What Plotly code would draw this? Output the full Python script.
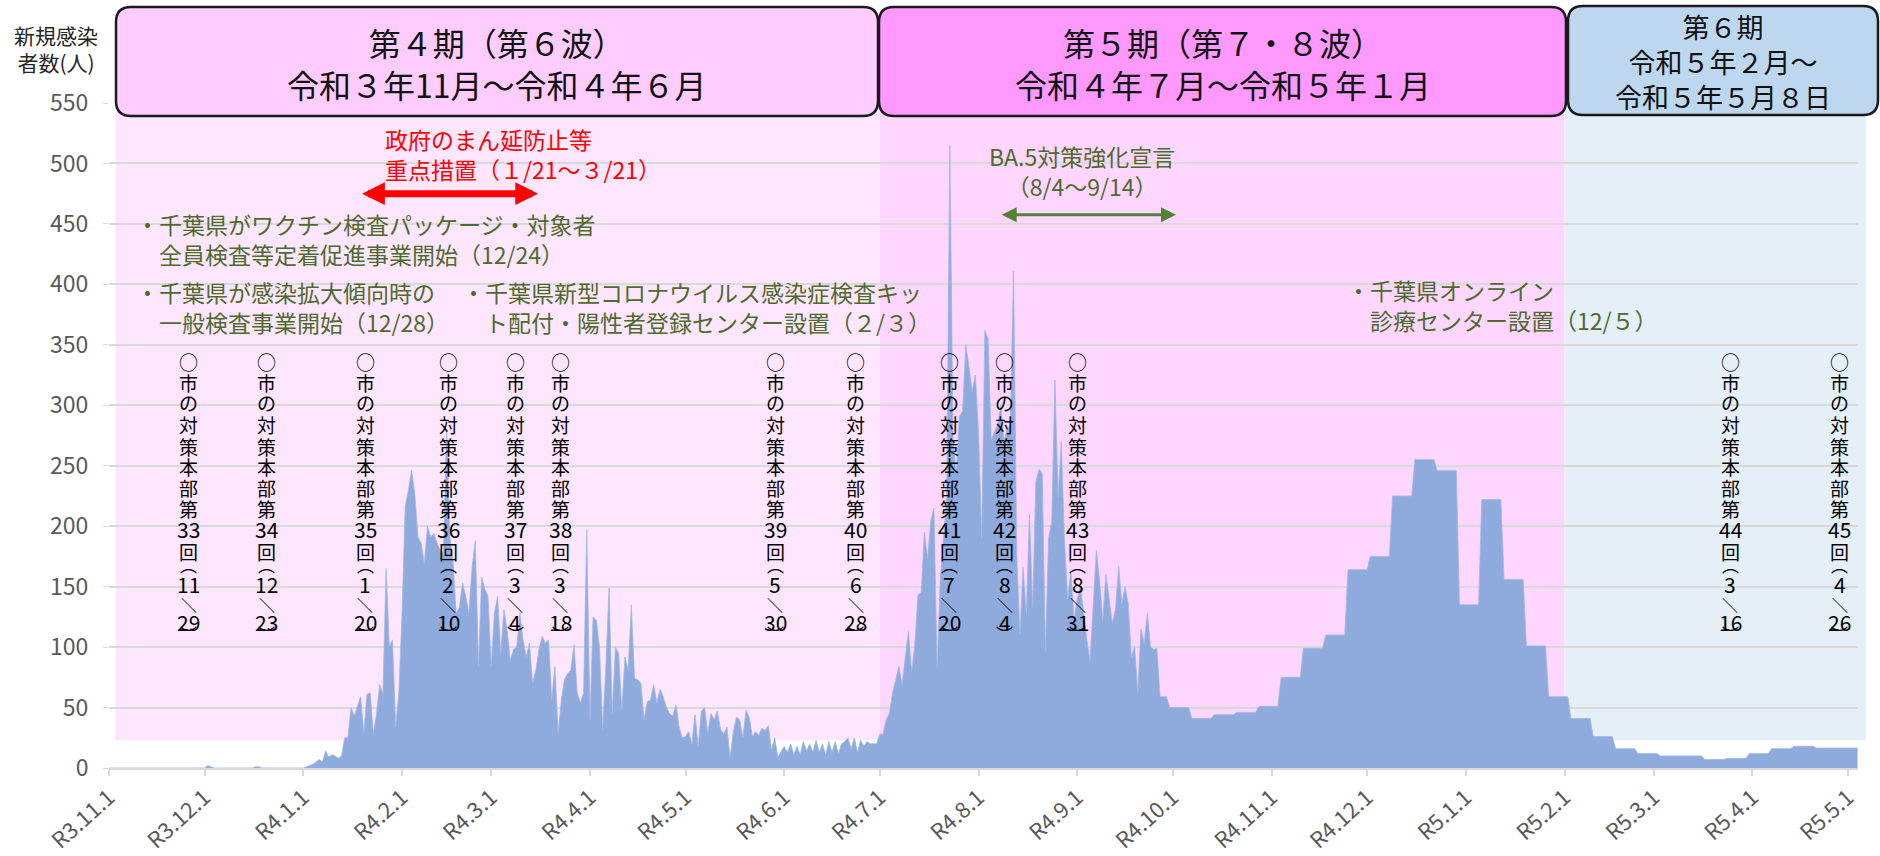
import pandas as pd
import plotly.graph_objects as go

# ---------------- data ----------------
daily_start = "2021-11-01"
nov_2021 = [0, 0, 0, 0, 0, 0, 0, 0, 0, 0, 0, 0, 0, 0, 0, 0, 0, 0, 0, 0, 0, 0, 0, 0, 0, 0, 0, 0, 0, 0]
dec_2021 = [0, 2, 1, 0, 0, 0, 0, 0, 0, 0, 0, 0, 0, 0, 0, 0, 1, 1, 0, 0, 0, 0, 0, 0, 0, 0, 0, 0, 0, 0, 0]
jan_2022 = [0, 1, 2, 3, 5, 7, 5, 14, 9, 11, 10, 8, 10, 25, 25, 50, 43, 52, 59, 29, 61, 62, 28, 45, 69,
            61, 165, 100, 106, 34, 62]
feb_2022 = [128, 216, 230, 246, 227, 191, 186, 169, 200, 191, 194, 186, 180, 177, 279, 191, 172, 128,
            133, 153, 142, 128, 166, 188, 84, 158, 148, 142]
mar_2022 = [84, 128, 142, 95, 131, 114, 89, 98, 100, 128, 106, 92, 103, 70, 81, 98, 109, 103, 106, 56,
            84, 29, 56, 73, 78, 81, 102, 62, 54, 62, 197]
apr_2022 = [40, 125, 122, 100, 32, 84, 149, 45, 100, 95, 48, 92, 81, 135, 74, 73, 70, 40, 55, 56,
            69, 54, 65, 59, 50, 45, 43, 52, 34, 25]
may_2022 = [26, 30, 20, 44, 18, 47, 50, 29, 45, 40, 47, 32, 28, 34, 9, 30, 42, 40, 25, 48, 42, 26,
            30, 27, 33, 31, 35, 15, 25, 9, 13]
jun_2022 = [18, 13, 20, 11, 18, 11, 22, 14, 20, 13, 23, 13, 20, 11, 22, 13, 22, 12, 20, 22, 25, 16,
            25, 13, 23, 18, 22, 20, 20, 20]
jul_2022 = [28, 28, 40, 45, 62, 72, 84, 69, 89, 113, 79, 102, 143, 145, 195, 173, 204, 215, 82, 156,
            190, 224, 515, 270, 244, 291, 295, 350, 332, 311, 325]
aug_2022 = [278, 190, 362, 355, 271, 278, 284, 300, 270, 280, 284, 411, 177, 110, 166, 126, 210, 133,
            237, 247, 244, 96, 190, 204, 321, 224, 270, 187, 140, 163, 123]
sep_2022 = [140, 150, 129, 106, 89, 133, 180, 155, 122, 160, 140, 120, 131, 167, 136, 150, 136, 91,
            101, 62, 115, 103, 128, 100, 98, 99, 59, 59, 59]  # 9/1 - 9/29

weekly_start = "2022-09-30"   # from here the figures are given per week
weekly_avg = [50, 41, 44, 46, 51, 75, 99, 110, 164, 175, 225, 255, 246, 135, 222, 156, 101, 59,
              41, 26, 16, 12, 10, 10, 7, 8, 12, 16, 18, 16.5, 16.5]

tick_dates = ["2021-11-01", "2021-12-01", "2022-01-01", "2022-02-01", "2022-03-01", "2022-04-01",
              "2022-05-01", "2022-06-01", "2022-07-01", "2022-08-01", "2022-09-01", "2022-10-01",
              "2022-11-01", "2022-12-01", "2023-01-01", "2023-02-01", "2023-03-01", "2023-04-01",
              "2023-05-01"]
tick_labels = ["R3.11.1", "R3.12.1", "R4.1.1", "R4.2.1", "R4.3.1", "R4.4.1", "R4.5.1", "R4.6.1",
               "R4.7.1", "R4.8.1", "R4.9.1", "R4.10.1", "R4.11.1", "R4.12.1", "R5.1.1", "R5.2.1",
               "R5.3.1", "R5.4.1", "R5.5.1"]
y_ticks = [0, 50, 100, 150, 200, 250, 300, 350, 400, 450, 500, 550]

period_titles = ["第４期（第６波）<br>令和３年11月～令和４年６月",
                 "第５期（第７・８波）<br>令和４年７月～令和５年１月",
                 "第６期<br>令和５年２月～<br>令和５年５月８日"]
period_start = ["2021-11-03", "2022-07-01", "2023-02-01"]
period_end = ["2022-07-01", "2023-02-01", "2023-05-06 14:00"]

mtg_no = ["33", "34", "35", "36", "37", "38", "39", "40", "41", "42", "43", "44", "45"]
mtg_month = ["11", "12", "1", "2", "3", "3", "5", "6", "7", "8", "8", "3", "4"]
mtg_day = ["29", "23", "20", "10", "4", "18", "30", "28", "20", "4", "31", "16", "26"]
mtg_label_x = ["2021-11-26", "2021-12-20 12:00", "2022-01-20 12:00", "2022-02-15 12:00",
               "2022-03-08 14:00", "2022-03-22 17:00", "2022-05-29 05:00", "2022-06-23 12:00",
               "2022-07-22 19:00", "2022-08-09 05:00", "2022-09-01 05:00", "2023-03-25 02:00",
               "2023-04-28 10:00"]

# ---------------- build series ----------------
daily_values = (nov_2021 + dec_2021 + jan_2022 + feb_2022 + mar_2022 + apr_2022 + may_2022
                + jun_2022 + jul_2022 + aug_2022 + sep_2022)
daily_dates = pd.date_range(daily_start, periods=len(daily_values), freq="D")
assert daily_dates[-1] == pd.Timestamp(weekly_start) - pd.Timedelta(days=1)
week_values = []
for v in weekly_avg:
    week_values.extend([v] * 7)
week_dates = pd.date_range(weekly_start, periods=len(week_values), freq="D")
dates = list(daily_dates) + list(week_dates)
values = daily_values + week_values

X_RANGE = [pd.Timestamp("2021-11-01"), pd.Timestamp("2023-05-04 03:00")]

# ---------------- layout geometry (pixels) ----------------
L, T, R, B = 109, 103, 22, 88
W = 1880 - L - R
H = 856 - T - B


def px_x(px):
    return (px - L) / W


def px_y(py):
    return (T + H - py) / H


def date_frac(d):
    d = pd.Timestamp(d)
    return (d - X_RANGE[0]) / (X_RANGE[1] - X_RANGE[0])


def rrect_path(x0, y0, x1, y1, r):
    X, Y = px_x, px_y
    return (f"M{X(x0 + r)},{Y(y0)} L{X(x1 - r)},{Y(y0)} Q{X(x1)},{Y(y0)} {X(x1)},{Y(y0 + r)} "
            f"L{X(x1)},{Y(y1 - r)} Q{X(x1)},{Y(y1)} {X(x1 - r)},{Y(y1)} "
            f"L{X(x0 + r)},{Y(y1)} Q{X(x0)},{Y(y1)} {X(x0)},{Y(y1 - r)} "
            f"L{X(x0)},{Y(y0 + r)} Q{X(x0)},{Y(y0)} {X(x0 + r)},{Y(y0)} Z")


FONT = "Noto Sans CJK JP"
GREEN = "#4E6B2E"

fig = go.Figure()
fig.add_trace(go.Scatter(
    x=dates, y=values, mode="lines", fill="tozeroy",
    fillcolor="#8FAADC", line=dict(color="#9FB7E3", width=0.8),
    hoverinfo="x+y"))

shapes = []
bg_colors = ["#FFE6FF", "#FFD6FF", "#E5EFF8"]
for i, (s, e) in enumerate(zip(period_start, period_end)):
    shapes.append(dict(type="rect", xref="paper", yref="paper", layer="below",
                       x0=date_frac(s), x1=date_frac(e), y0=23 / 550, y1=1.0,
                       fillcolor=bg_colors[i], line=dict(width=0)))

box_px = [(116, 7, 878, 116), (879, 7, 1566, 116), (1568, 6, 1878, 115)]
box_colors = ["#FFCCFF", "#FF99FF", "#BDD7EE"]
box_fonts = [32, 32, 27]
annotations = []
for (x0, y0, x1, y1), c, title, fs in zip(box_px, box_colors, period_titles, box_fonts):
    shapes.append(dict(type="path", xref="paper", yref="paper", layer="above",
                       path=rrect_path(x0, y0, x1, y1, 15), fillcolor=c,
                       line=dict(color="#1A1A1A", width=2.5)))
    annotations.append(dict(xref="paper", yref="paper", x=px_x((x0 + x1) / 2),
                            y=px_y((y0 + y1) / 2 + 1), text=title, showarrow=False,
                            font=dict(family=FONT, size=fs, color="#111111"),
                            xanchor="center", yanchor="middle", align="center"))

# y-axis title
annotations.append(dict(xref="paper", yref="paper", x=px_x(56), y=px_y(49),
                        text="新規感染<br>者数(人)", showarrow=False,
                        font=dict(family=FONT, size=21, color="#262626"),
                        xanchor="center", yanchor="middle", align="center"))

# notes
notes = [
    ("政府のまん延防止等<br>重点措置（１/21～３/21）", "2022-01-26", 508, "red", "left"),
    ("・千葉県がワクチン検査パッケージ・対象者<br>　全員検査等定着促進事業開始（12/24）",
     "2021-11-08 19:00", 437.5, GREEN, "left"),
    ("・千葉県が感染拡大傾向時の<br>　一般検査事業開始（12/28）", "2021-11-08 19:00", 381, GREEN, "left"),
    ("・千葉県新型コロナウイルス感染症検査キッ<br>　ト配付・陽性者登録センター設置（２/３）",
     "2022-02-19 05:00", 381, GREEN, "left"),
    ("・千葉県オンライン<br>　診療センター設置（12/５）", "2022-11-24", 382.6, GREEN, "left"),
    ("BA.5対策強化宣言<br>（8/4～9/14）", "2022-09-02 12:00", 493.4, GREEN, "center"),
]
for text, x, y, col, al in notes:
    annotations.append(dict(x=x, y=y, xref="x", yref="y", text=text, showarrow=False,
                            font=dict(family=FONT, size=23, color=col),
                            xanchor="left" if al == "left" else "center",
                            yanchor="middle", align=al))

# double arrows
annotations.append(dict(x="2022-03-15 17:00", y=475, ax="2022-01-19", ay=475,
                        xref="x", yref="y", axref="x", ayref="y", text="",
                        showarrow=True, arrowside="end+start", arrowhead=2, startarrowhead=2,
                        arrowsize=0.65, startarrowsize=0.65, arrowwidth=7, arrowcolor="#FF0000"))
annotations.append(dict(x="2022-10-02", y=457.6, ax="2022-08-07 19:00", ay=457.6,
                        xref="x", yref="y", axref="x", ayref="y", text="",
                        showarrow=True, arrowside="end+start", arrowhead=2, startarrowhead=2,
                        arrowsize=1.0, startarrowsize=1.0, arrowwidth=3, arrowcolor="#548235"))

# vertical meeting labels (one glyph per row, written top to bottom)
row_y = [336.0, 318.8, 301.9, 283.7, 266.3, 249.2, 232.0, 215.0, 197.7, 178.9,
         168.0, 152.2, 135.6, 121.0, 111.0]
row_size = [19, 19, 19, 19, 19, 19, 19, 19, 21, 19, 17, 21, 16, 21, 17]
for no, mo, dy, xa in zip(mtg_no, mtg_month, mtg_day, mtg_label_x):
    chars = ["○", "市", "の", "対", "策", "本", "部", "第", no, "回", "︵", mo, "＼", dy, "︶"]
    for ch, yy, fs in zip(chars, row_y, row_size):
        annotations.append(dict(x=xa, y=yy, xref="x", yref="y", text=ch, showarrow=False,
                                font=dict(family=FONT, size=fs, color="#000000"),
                                xanchor="center", yanchor="middle", borderpad=0))

fig.update_layout(
    width=1880, height=856,
    margin=dict(l=L, r=R, t=T, b=B, autoexpand=False),
    plot_bgcolor="white", paper_bgcolor="white",
    showlegend=False,
    font=dict(family=FONT),
    shapes=shapes,
    annotations=annotations,
    xaxis=dict(type="date", range=X_RANGE, tickvals=tick_dates, ticktext=tick_labels,
               tickangle=-42, tickfont=dict(family=FONT, size=22, color="#595959"),
               showgrid=False, zeroline=False, showline=True, linecolor="#D9D9D9", linewidth=2,
               ticks="outside", ticklen=6, tickwidth=1.5, tickcolor="#D9D9D9"),
    yaxis=dict(range=[0, 550], tickvals=y_ticks, showgrid=True, gridcolor="#D9D9D9", gridwidth=2,
               zeroline=False, showline=False, ticks="outside", ticklen=5, tickcolor="#D9D9D9",
               tickfont=dict(family=FONT, size=23, color="#595959"), ticklabelstandoff=10),
)

fig.write_html("out.html", config={"displayModeBar": False},
               post_script="document.body.style.margin='0';document.body.style.overflow='hidden';")
